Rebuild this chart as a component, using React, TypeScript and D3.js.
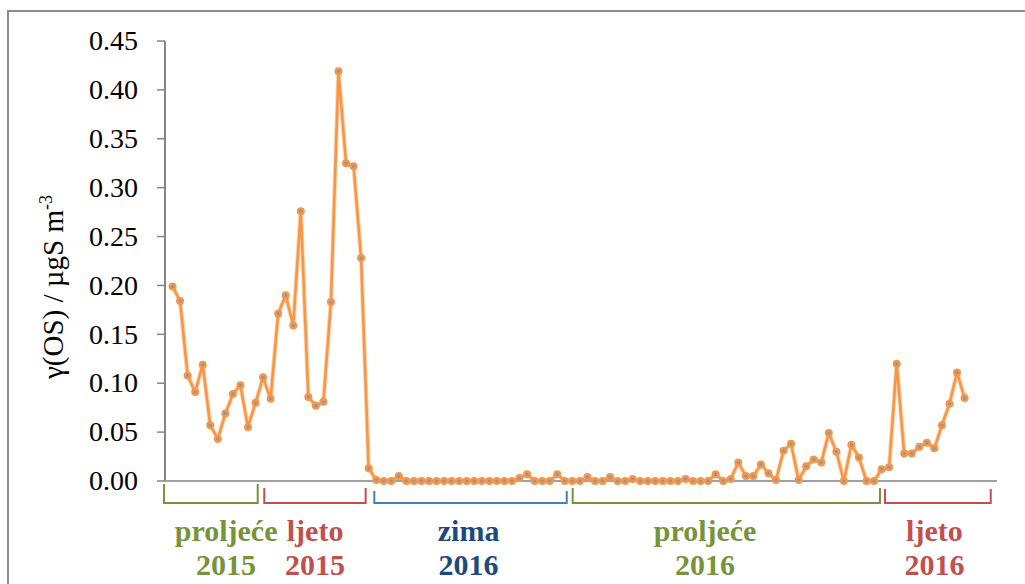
import React from "react";
import * as d3 from "d3";

const values: number[] = [
  0.199, 0.184, 0.108, 0.091, 0.119, 0.057, 0.043, 0.069, 0.089, 0.098,
  0.055, 0.080, 0.106, 0.084, 0.171, 0.190, 0.159, 0.276, 0.086, 0.077,
  0.081, 0.183, 0.419, 0.325, 0.322, 0.228, 0.013, 0.001, 0, 0,
  0.005, 0, 0, 0, 0, 0, 0, 0, 0, 0,
  0, 0, 0, 0, 0, 0, 0.003, 0.007, 0, 0,
  0, 0.007, 0, 0, 0, 0.004, 0, 0, 0.004, 0,
  0, 0.002, 0, 0, 0, 0, 0, 0, 0.002, 0,
  0, 0, 0.007, 0, 0.002, 0.019, 0.005, 0.005, 0.017, 0.008,
  0.001, 0.031, 0.038, 0.001, 0.015, 0.022, 0.019, 0.049, 0.030, 0,
  0.037, 0.024, 0, 0, 0.012, 0.014, 0.120, 0.028, 0.028, 0.035,
  0.039, 0.0335, 0.057, 0.079, 0.111, 0.085,
];

const yTicks: number[] = [0, 0.05, 0.1, 0.15, 0.2, 0.25, 0.3, 0.35, 0.4, 0.45];

// season annotations in data-index units
const seasonNames: string[] = ["proljeće", "ljeto", "zima", "proljeće", "ljeto"];
const seasonYears: string[] = ["2015", "2015", "2016", "2016", "2016"];
const seasonStart: number[] = [-1.13, 12.16, 26.75, 53.05, 94.45];
const seasonEnd: number[] = [11.29, 25.6, 52.26, 93.79, 108.47];
const seasonLabelAt: number[] = [7.1, 18.9, 39.25, 70.6, 101.0];

const seasonColors = [
  { text: "#77933C", bracket: "#77933C", top: 484 },
  { text: "#C0504D", bracket: "#C0504D", top: 488 },
  { text: "#1F497D", bracket: "#4A7EBB", top: 491 },
  { text: "#77933C", bracket: "#77933C", top: 488 },
  { text: "#C0504D", bracket: "#C0504D", top: 489 },
];

const W = 1025;
const H = 584;
const FONT = "'Liberation Serif', 'Times New Roman', 'DejaVu Serif', serif";

export default function App() {
  const x = d3.scaleLinear().domain([-1, 109.3]).range([165, 997]);
  const y = d3.scaleLinear().domain([0, 0.45]).range([481, 41]);
  const line = d3
    .line<number>()
    .x((_, i) => x(i))
    .y((d) => y(d));
  const fmt = d3.format(".2f");
  const bracketBottom = 503;

  return (
    <svg
      width={W}
      height={H}
      style={{ position: "absolute", left: 0, top: 0, background: "#fff" }}
      fontFamily={FONT}
    >
      <rect x={0} y={0} width={W} height={H} fill="#fff" />
      {/* outer frame */}
      <path d={`M8,${H + 2} L8,11 L${W + 2},11`} fill="none" stroke="#8C8C8C" strokeWidth={2} />

      {/* y axis */}
      <line x1={165} x2={165} y1={y(0.45)} y2={y(0)} stroke="#868686" strokeWidth={2} />
      {yTicks.map((t) => (
        <g key={t}>
          <line x1={157} x2={165} y1={y(t)} y2={y(t)} stroke="#868686" strokeWidth={1.5} />
          <text
            x={138}
            y={y(t)}
            dy="0.33em"
            textAnchor="end"
            fontSize={28}
            fill="#000"
          >
            {fmt(t)}
          </text>
        </g>
      ))}
      {/* x axis */}
      <line x1={165} x2={997} y1={y(0)} y2={y(0)} stroke="#A0A0A0" strokeWidth={2} />

      {/* y axis title */}
      <text
        transform={`translate(63,287) rotate(-90)`}
        textAnchor="middle"
        fontSize={29}
        fill="#000"
      >
        γ(OS) / µgS m<tspan fontSize={18} dy={-11}>-3</tspan>
      </text>

      {/* data line */}
      <path d={line(values) || ""} fill="none" stroke="#F9A35C" strokeWidth={4.5} strokeOpacity={0.45} strokeLinejoin="round" />
      <path d={line(values) || ""} fill="none" stroke="#F79646" strokeWidth={2.6} strokeLinejoin="round" />
      {values.map((v, i) => (
        <g key={i}>
          <circle cx={x(i)} cy={y(v)} r={4} fill="#F79646" />
          <circle cx={x(i)} cy={y(v)} r={1.6} fill="#8797B2" />
        </g>
      ))}

      {/* season brackets and labels */}
      {seasonNames.map((name, k) => {
        const x0 = x(seasonStart[k]);
        const x1 = x(seasonEnd[k]);
        const c = seasonColors[k];
        const cx = x(seasonLabelAt[k]);
        return (
          <g key={k}>
            <path
              d={`M${x0},${c.top} L${x0},${bracketBottom} L${x1},${bracketBottom} L${x1},${c.top}`}
              fill="none"
              stroke={c.bracket}
              strokeWidth={2}
            />
            <text x={cx} y={541} textAnchor="middle" fontSize={30} fontWeight="bold" fill={c.text}>
              {name}
            </text>
            <text x={cx} y={575} textAnchor="middle" fontSize={30} fontWeight="bold" fill={c.text}>
              {seasonYears[k]}
            </text>
          </g>
        );
      })}
    </svg>
  );
}
